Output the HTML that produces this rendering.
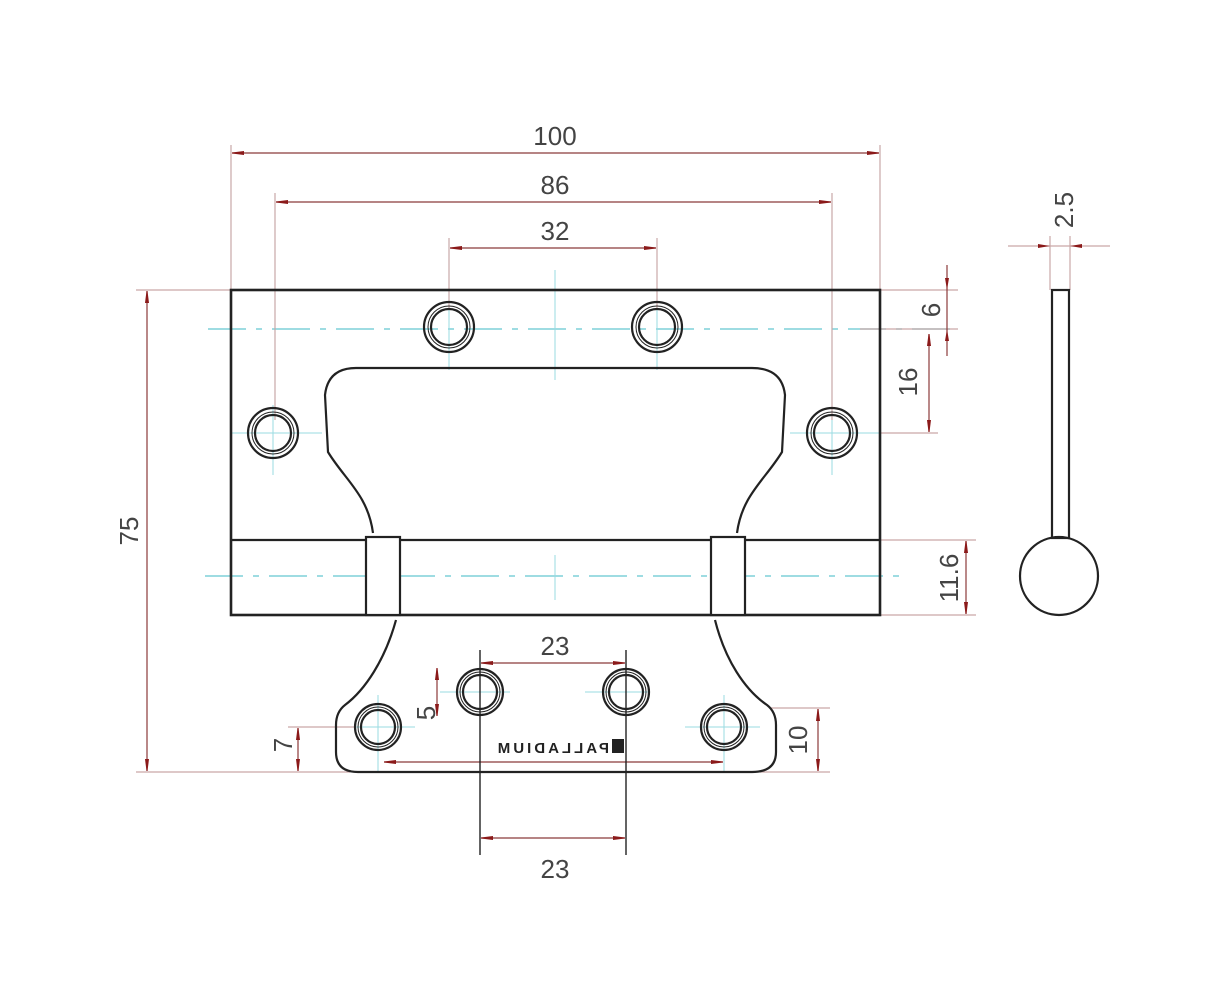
<!DOCTYPE html>
<html><head><meta charset="utf-8"><style>
html,body{margin:0;padding:0;background:#fff;}
svg{display:block;}
text{font-family:"Liberation Sans",sans-serif;fill:#444;}
</style></head><body>
<svg width="1223" height="1000" viewBox="0 0 1223 1000" xmlns="http://www.w3.org/2000/svg">
<defs>
<marker id="a" viewBox="0 0 12 6" refX="12" refY="3" markerWidth="12" markerHeight="6" orient="auto-start-reverse" markerUnits="userSpaceOnUse">
<path d="M0,1.5 L12,3 L0,4.5 Z" fill="#8b1a1a" stroke="#8b1a1a" stroke-width="1"/>
</marker>
</defs>
<g stroke="#7fd0d8" stroke-width="1.4" stroke-dasharray="38,10,6,10" fill="none">
<line x1="208" y1="329" x2="958" y2="329"/>
<line x1="205" y1="576" x2="905" y2="576"/>
</g>
<g stroke="#9adbe2" stroke-width="1" fill="none">
<line x1="555" y1="270" x2="555" y2="380"/>
<line x1="555" y1="555" x2="555" y2="600"/>
<line x1="273" y1="405" x2="273" y2="475"/><line x1="232" y1="433" x2="322" y2="433"/>
<line x1="832" y1="405" x2="832" y2="475"/><line x1="790" y1="433" x2="880" y2="433"/>
<line x1="449" y1="300" x2="449" y2="370"/><line x1="657" y1="300" x2="657" y2="370"/>
<line x1="378" y1="695" x2="378" y2="772"/><line x1="340" y1="727" x2="415" y2="727"/>
<line x1="724" y1="695" x2="724" y2="772"/><line x1="685" y1="727" x2="760" y2="727"/>
<line x1="440" y1="692" x2="510" y2="692"/><line x1="585" y1="692" x2="650" y2="692"/>
</g>
<g stroke="#c9a8a8" stroke-width="1.2" fill="none">
<line x1="231" y1="145" x2="231" y2="290"/>
<line x1="880" y1="145" x2="880" y2="290"/>
<line x1="275" y1="193" x2="275" y2="420"/>
<line x1="832" y1="193" x2="832" y2="420"/>
<line x1="449" y1="238" x2="449" y2="310"/>
<line x1="657" y1="238" x2="657" y2="310"/>
<line x1="136" y1="290" x2="231" y2="290"/>
<line x1="136" y1="772" x2="350" y2="772"/>
<line x1="880" y1="290" x2="958" y2="290"/>
<line x1="860" y1="329" x2="958" y2="329"/>
<line x1="880" y1="433" x2="938" y2="433"/>
<line x1="880" y1="540" x2="976" y2="540"/>
<line x1="880" y1="615" x2="976" y2="615"/>
<line x1="760" y1="772" x2="830" y2="772"/>
<line x1="770" y1="708" x2="830" y2="708"/>
<line x1="288" y1="727" x2="355" y2="727"/>
<line x1="1050" y1="236" x2="1050" y2="290"/>
<line x1="1070" y1="236" x2="1070" y2="290"/>
<line x1="1008" y1="246" x2="1110" y2="246"/>
</g>
<g stroke="#8b3a3a" stroke-width="1.2" fill="none" marker-start="url(#a)" marker-end="url(#a)">
<line x1="232" y1="153" x2="879" y2="153"/>
<line x1="276" y1="202" x2="831" y2="202"/>
<line x1="450" y1="248" x2="656" y2="248"/>
<line x1="147" y1="291" x2="147" y2="771"/>
<line x1="929" y1="334" x2="929" y2="432"/>
<line x1="966" y1="541" x2="966" y2="614"/>
<line x1="818" y1="709" x2="818" y2="771"/>
<line x1="298" y1="728" x2="298" y2="771"/>
<line x1="437" y1="668" x2="437" y2="716"/>
<line x1="481" y1="663" x2="625" y2="663"/>
<line x1="481" y1="838" x2="625" y2="838"/>
<line x1="384" y1="762" x2="723" y2="762"/>
</g>
<g stroke="#8b3a3a" stroke-width="1.2" fill="none">
<line x1="947" y1="265" x2="947" y2="356"/>
</g>
<g fill="#8b1a1a">
<path d="M947,290 l-2,-12 h4z"/><path d="M947,329 l-2,12 h4z"/>
<path d="M1050,246 l-12,-2 v4z"/><path d="M1070,246 l12,-2 v4z"/>
</g>
<g stroke="#222" stroke-width="1.4">
<line x1="480" y1="650" x2="480" y2="855"/>
<line x1="626" y1="650" x2="626" y2="855"/>
</g>
<g stroke="#222" fill="none" stroke-width="2.2">
<rect x="231" y="290" width="649" height="325" stroke-width="2.6"/>
<line x1="231" y1="540" x2="880" y2="540"/>
<rect x="366" y="537" width="34" height="78" fill="#fff"/>
<rect x="711" y="537" width="34" height="78" fill="#fff"/>
<path d="M373,533 C368,495 345,480 328,452 L325,395 Q328,368 356,368 L752,368 Q782,368 785,395 L782,452 C765,480 742,495 737,533"/>
<path d="M396,620 C385,660 365,690 345,705 Q336,712 336,725 L336,752 Q336,772 358,772 L752,772 Q776,772 776,752 L776,725 Q776,712 767,705 C745,690 725,660 715,620"/>
<rect x="1052" y="290" width="17" height="248"/>
<circle cx="1059" cy="576" r="39"/>
</g>
<g stroke="#222" fill="none">
<g stroke-width="2.2">
<circle cx="449" cy="327" r="25"/><circle cx="449" cy="327" r="18"/>
<circle cx="657" cy="327" r="25"/><circle cx="657" cy="327" r="18"/>
<circle cx="273" cy="433" r="25"/><circle cx="273" cy="433" r="18"/>
<circle cx="832" cy="433" r="25"/><circle cx="832" cy="433" r="18"/>
<circle cx="378" cy="727" r="23"/><circle cx="378" cy="727" r="17"/>
<circle cx="480" cy="692" r="23"/><circle cx="480" cy="692" r="17"/>
<circle cx="626" cy="692" r="23"/><circle cx="626" cy="692" r="17"/>
<circle cx="724" cy="727" r="23"/><circle cx="724" cy="727" r="17"/>
</g>
<g stroke-width="1">
<circle cx="449" cy="327" r="21"/><circle cx="657" cy="327" r="21"/>
<circle cx="273" cy="433" r="21"/><circle cx="832" cy="433" r="21"/>
<circle cx="378" cy="727" r="20"/><circle cx="480" cy="692" r="20"/>
<circle cx="626" cy="692" r="20"/><circle cx="724" cy="727" r="20"/>
</g>
</g>
<rect x="612" y="739" width="12" height="14" fill="#222"/>
<text x="0" y="0" font-size="15" font-weight="bold" transform="translate(609,753) scale(-1,1)" style="fill:#222;letter-spacing:3px">PALLADIUM</text>
<g font-size="26">
<text x="555" y="145" text-anchor="middle">100</text>
<text x="555" y="194" text-anchor="middle">86</text>
<text x="555" y="240" text-anchor="middle">32</text>
<text x="555" y="655" text-anchor="middle">23</text>
<text x="555" y="878" text-anchor="middle">23</text>
<text transform="translate(138,531) rotate(-90)" text-anchor="middle">75</text>
<text transform="translate(940,310) rotate(-90)" text-anchor="middle">6</text>
<text transform="translate(917,382) rotate(-90)" text-anchor="middle">16</text>
<text transform="translate(958,578) rotate(-90)" text-anchor="middle">11.6</text>
<text transform="translate(807,740) rotate(-90)" text-anchor="middle">10</text>
<text transform="translate(292,745) rotate(-90)" text-anchor="middle">7</text>
<text transform="translate(435,713) rotate(-90)" text-anchor="middle">5</text>
<text transform="translate(1073,210) rotate(-90)" text-anchor="middle">2.5</text>
</g>
</svg>
</body></html>
